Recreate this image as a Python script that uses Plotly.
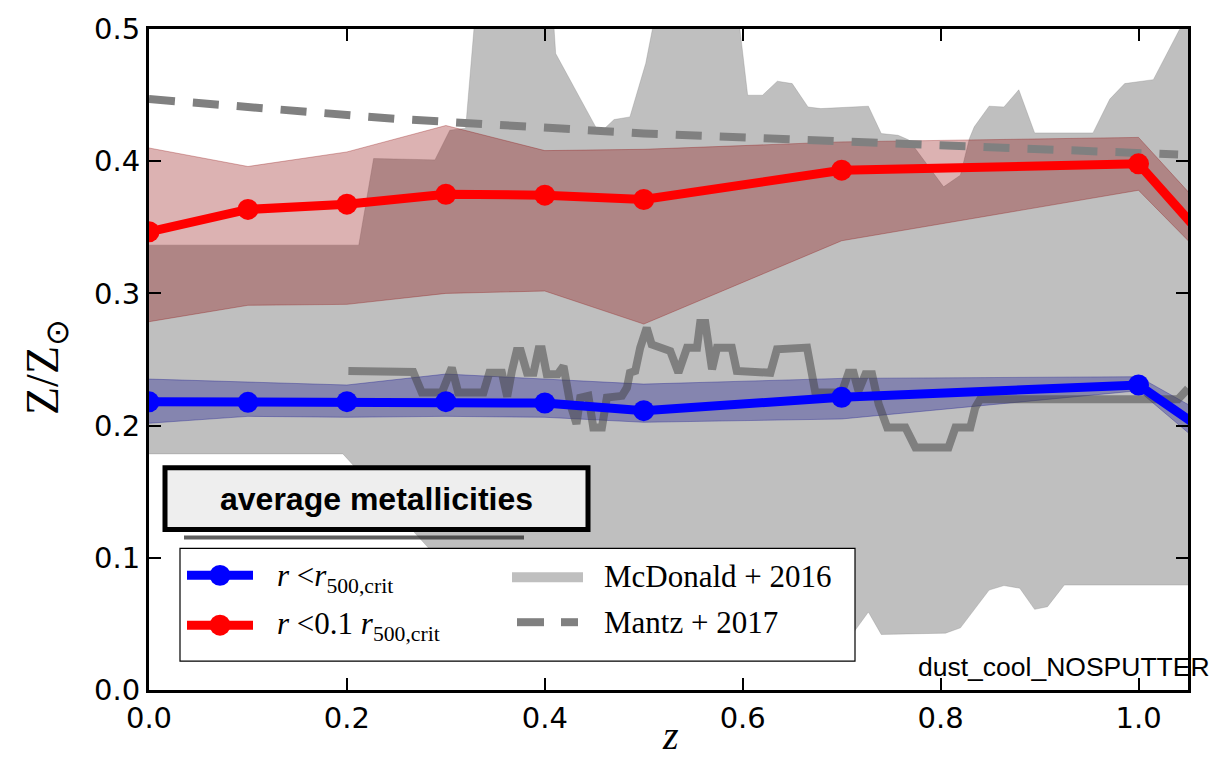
import plotly.graph_objects as go

# ---- simulation snapshots: average metallicity vs redshift ----
z_snap = [0.0, 0.1, 0.2, 0.3, 0.4, 0.5, 0.7, 1.0, 1.1]

blue_med = [0.2180, 0.2176, 0.2181, 0.2181, 0.2171, 0.2113, 0.2214, 0.2307, 0.179]
blue_hi = [0.2352, 0.2330, 0.2307, 0.2390, 0.2352, 0.2314, 0.2357, 0.2370, 0.195]
blue_lo = [0.2018, 0.2070, 0.2063, 0.2070, 0.2063, 0.2025, 0.2050, 0.2264, 0.163]

red_med = [0.3466, 0.3635, 0.3675, 0.3750, 0.3743, 0.3710, 0.3932, 0.3980, 0.314]
red_hi = [0.4100, 0.3960, 0.4070, 0.4270, 0.4080, 0.4090, 0.4146, 0.4180, 0.336]
red_lo = [0.2786, 0.2910, 0.2917, 0.3000, 0.3018, 0.2768, 0.3398, 0.3780, 0.302]

# ---- McDonald et al. 2016 scatter envelope ----
mcd_up_z = [0.0, 0.212, 0.227, 0.289, 0.304, 0.320, 0.334, 0.405, 0.411, 0.455,
            0.470, 0.486, 0.502, 0.514, 0.594, 0.605, 0.620, 0.635, 0.650, 0.666,
            0.679, 0.727, 0.740, 0.757, 0.768, 0.783, 0.803, 0.820, 0.829, 0.834,
            0.849, 0.864, 0.879, 0.895, 0.954, 0.971, 0.986, 1.015, 1.041, 1.048, 1.1]
mcd_up = [0.3365, 0.3365, 0.402, 0.401, 0.4234, 0.425, 0.55, 0.55, 0.4814, 0.421,
          0.4315, 0.4335, 0.474, 0.52, 0.52, 0.4499, 0.4499, 0.4605, 0.4587, 0.441,
          0.4398, 0.4416, 0.4209, 0.4196, 0.416, 0.4008, 0.3806, 0.3894, 0.417, 0.426,
          0.4416, 0.441, 0.454, 0.4214, 0.4214, 0.447, 0.4587, 0.4617, 0.499, 0.507, 0.55]
mcd_lo_z = [0.0, 0.196, 0.283, 0.40, 0.55, 0.65, 0.7125, 0.727, 0.740, 0.805,
            0.820, 0.849, 0.864, 0.880, 0.895, 0.908, 0.925, 1.1]
mcd_lo = [0.1786, 0.1786, 0.107, 0.075, 0.05, 0.045, 0.044, 0.059, 0.042, 0.043,
          0.047, 0.0756, 0.079, 0.077, 0.061, 0.063, 0.0794, 0.0794]

# ---- running observational median (stepped curve) ----
step_z = [0.2015, 0.267, 0.2757, 0.296, 0.306, 0.3125, 0.338, 0.344, 0.3566, 0.362,
          0.3667, 0.3716, 0.3757, 0.382, 0.3886, 0.3937, 0.397, 0.402, 0.4130, 0.4189,
          0.4257, 0.432, 0.4358, 0.444, 0.449, 0.4577, 0.4627, 0.478, 0.483, 0.486,
          0.4914, 0.4964, 0.503, 0.508, 0.5268, 0.535, 0.5437, 0.5538, 0.557, 0.5622,
          0.569, 0.574, 0.589, 0.594, 0.628, 0.6346, 0.665, 0.6734, 0.700, 0.707,
          0.712, 0.717, 0.724, 0.7307, 0.7374, 0.746, 0.7644, 0.7745, 0.808, 0.815,
          0.830, 0.835, 0.840, 1.040, 1.050]
step_Z = [0.2413, 0.2406, 0.2250, 0.2250, 0.2438, 0.2250, 0.2250, 0.2400, 0.2400, 0.2220,
          0.2413, 0.2564, 0.2564, 0.2400, 0.2400, 0.2577, 0.2577, 0.2388, 0.2388, 0.2450,
          0.2164, 0.2013, 0.2210, 0.2225, 0.1986, 0.1986, 0.2212, 0.2225, 0.2287, 0.2400,
          0.2413, 0.2589, 0.2740, 0.2614, 0.2564, 0.2400, 0.2589, 0.2589, 0.2777, 0.2777,
          0.2426, 0.2589, 0.2589, 0.2413, 0.2400, 0.2577, 0.2590, 0.2250, 0.2250, 0.2400,
          0.2400, 0.2262, 0.2388, 0.2388, 0.2162, 0.1986, 0.1986, 0.1835, 0.1835, 0.1986,
          0.1986, 0.2137, 0.2200, 0.2200, 0.2280]

# ---- Mantz et al. 2017 fit ----
mantz_z = [0.0, 0.25, 0.5, 0.75, 1.04]
mantz_Z = [0.447, 0.432, 0.421, 0.413, 0.405]

x_ticks = [0.0, 0.2, 0.4, 0.6, 0.8, 1.0]
y_ticks = [0.0, 0.1, 0.2, 0.3, 0.4, 0.5]

W, H = 1210, 757
ML, MR, MT, MB = 149, 22, 27, 67
PW, PH = W - ML - MR, H - MT - MB


def px(x):
    return (x - ML) / PW


def py(y):
    return (H - MB - y) / PH


def band(hi_z, hi, lo_z, lo):
    return list(hi_z) + list(lo_z)[::-1], list(hi) + list(lo)[::-1]


fig = go.Figure()

bx, by = band(mcd_up_z, mcd_up, mcd_lo_z, mcd_lo)
fig.add_trace(go.Scatter(x=bx, y=by, fill="toself", mode="lines",
                         fillcolor="rgba(128,128,128,0.5)",
                         line=dict(color="rgba(128,128,128,0.5)", width=0.6),
                         showlegend=False, hoverinfo="skip"))

rx, ry = band(z_snap, red_hi, z_snap, red_lo)
fig.add_trace(go.Scatter(x=rx, y=ry, fill="toself", mode="lines",
                         fillcolor="rgba(139,0,0,0.3)",
                         line=dict(color="rgba(139,0,0,0.3)", width=1),
                         showlegend=False, hoverinfo="skip"))

bbx, bby = band(z_snap, blue_hi, z_snap, blue_lo)
fig.add_trace(go.Scatter(x=bbx, y=bby, fill="toself", mode="lines",
                         fillcolor="rgba(0,0,139,0.3)",
                         line=dict(color="rgba(0,0,139,0.3)", width=1),
                         showlegend=False, hoverinfo="skip"))

fig.add_trace(go.Scatter(x=step_z, y=step_Z, mode="lines",
                         line=dict(color="rgba(64,64,64,0.5)", width=8),
                         showlegend=False, hoverinfo="skip"))

fig.add_trace(go.Scatter(x=mantz_z, y=mantz_Z, mode="lines",
                         line=dict(color="#808080", width=8, dash="26px,18px"),
                         showlegend=False))

fig.add_trace(go.Scatter(x=z_snap, y=red_med, mode="lines+markers",
                         line=dict(color="#ff0000", width=9),
                         marker=dict(color="#ff0000", size=21),
                         cliponaxis=True, showlegend=False))
fig.add_trace(go.Scatter(x=z_snap, y=blue_med, mode="lines+markers",
                         line=dict(color="#0000ff", width=9),
                         marker=dict(color="#0000ff", size=21),
                         cliponaxis=True, showlegend=False))

axis_common = dict(ticks="inside", ticklen=12, tickwidth=2, tickcolor="black",
                   showline=True, linewidth=3, linecolor="black", mirror="allticks",
                   showgrid=False, zeroline=False,
                   tickfont=dict(family="DejaVu Sans", size=29, color="black"))

fig.update_xaxes(range=[0, 1.05], tickvals=x_ticks,
                 ticktext=[f"{v:.1f}" for v in x_ticks], **axis_common)
fig.update_yaxes(range=[0, 0.5], tickvals=y_ticks,
                 ticktext=[f"{v:.1f}" for v in y_ticks], **axis_common)

shapes = []
annotations = []

# label box with shadow
shapes.append(dict(type="line", xref="paper", yref="paper",
                   x0=px(184), x1=px(524), y0=py(537), y1=py(537),
                   line=dict(color="rgba(40,40,40,0.75)", width=4), layer="above"))
shapes.append(dict(type="rect", xref="paper", yref="paper",
                   x0=px(165), x1=px(588), y0=py(529), y1=py(467),
                   fillcolor="#eeeeee", line=dict(color="black", width=5), layer="above"))
annotations.append(dict(xref="paper", yref="paper", x=px(376), y=py(498),
                        text="<b>average metallicities</b>", showarrow=False,
                        font=dict(family="Liberation Sans", size=32, color="black"),
                        xanchor="center", yanchor="middle"))

# legend frame
shapes.append(dict(type="rect", xref="paper", yref="paper",
                   x0=px(180), x1=px(855), y0=py(661), y1=py(548),
                   fillcolor="white", line=dict(color="black", width=1.2), layer="above"))
# legend samples
for yy, col in [(575, "#0000ff"), (625, "#ff0000")]:
    shapes.append(dict(type="line", xref="paper", yref="paper",
                       x0=px(187), x1=px(253), y0=py(yy), y1=py(yy),
                       line=dict(color=col, width=9), layer="above"))
    shapes.append(dict(type="circle", xref="paper", yref="paper",
                       x0=px(209.5), x1=px(230.5), y0=py(yy - 10.5), y1=py(yy + 10.5),
                       fillcolor=col, line=dict(color=col, width=0), layer="above"))
shapes.append(dict(type="line", xref="paper", yref="paper",
                   x0=px(512), x1=px(583), y0=py(577), y1=py(577),
                   line=dict(color="#bfbfbf", width=10), layer="above"))
for a, b in [(517, 544), (561, 578)]:
    shapes.append(dict(type="line", xref="paper", yref="paper",
                       x0=px(a), x1=px(b), y0=py(622), y1=py(622),
                       line=dict(color="#808080", width=8), layer="above"))

serif = dict(family="Liberation Serif", size=31, color="black")
legend_text = [
    (275, 578, "<i>r</i> &lt;<i>r</i><sub>500,crit</sub>"),
    (275, 626, "<i>r</i> &lt;0.1 <i>r</i><sub>500,crit</sub>"),
    (602, 576, "McDonald + 2016"),
    (602, 622, "Mantz + 2017"),
]
for x0, y0, t in legend_text:
    annotations.append(dict(xref="paper", yref="paper", x=px(x0), y=py(y0), text=t,
                            showarrow=False, xanchor="left", yanchor="middle",
                            font=serif))

annotations.append(dict(xref="paper", yref="paper", x=px(916), y=py(667),
                        text="dust_cool_NOSPUTTER", showarrow=False,
                        xanchor="left", yanchor="middle",
                        font=dict(family="Liberation Sans", size=26.5, color="black")))

# axis titles
annotations.append(dict(xref="paper", yref="paper", x=px(46), y=py(366),
                        text="Z/Z<sub>⊙</sub>", showarrow=False, textangle=-90,
                        xanchor="center", yanchor="middle",
                        font=dict(family="Liberation Serif", size=46, color="black")))
annotations.append(dict(xref="paper", yref="paper", x=px(670), y=py(736),
                        text="<i>z</i>", showarrow=False,
                        xanchor="center", yanchor="middle",
                        font=dict(family="Liberation Serif", size=40, color="black")))

fig.update_layout(width=W, height=H,
                  margin=dict(l=ML, r=MR, t=MT, b=MB),
                  paper_bgcolor="white", plot_bgcolor="white",
                  shapes=shapes, annotations=annotations, showlegend=False)

fig.write_html("out.html")
